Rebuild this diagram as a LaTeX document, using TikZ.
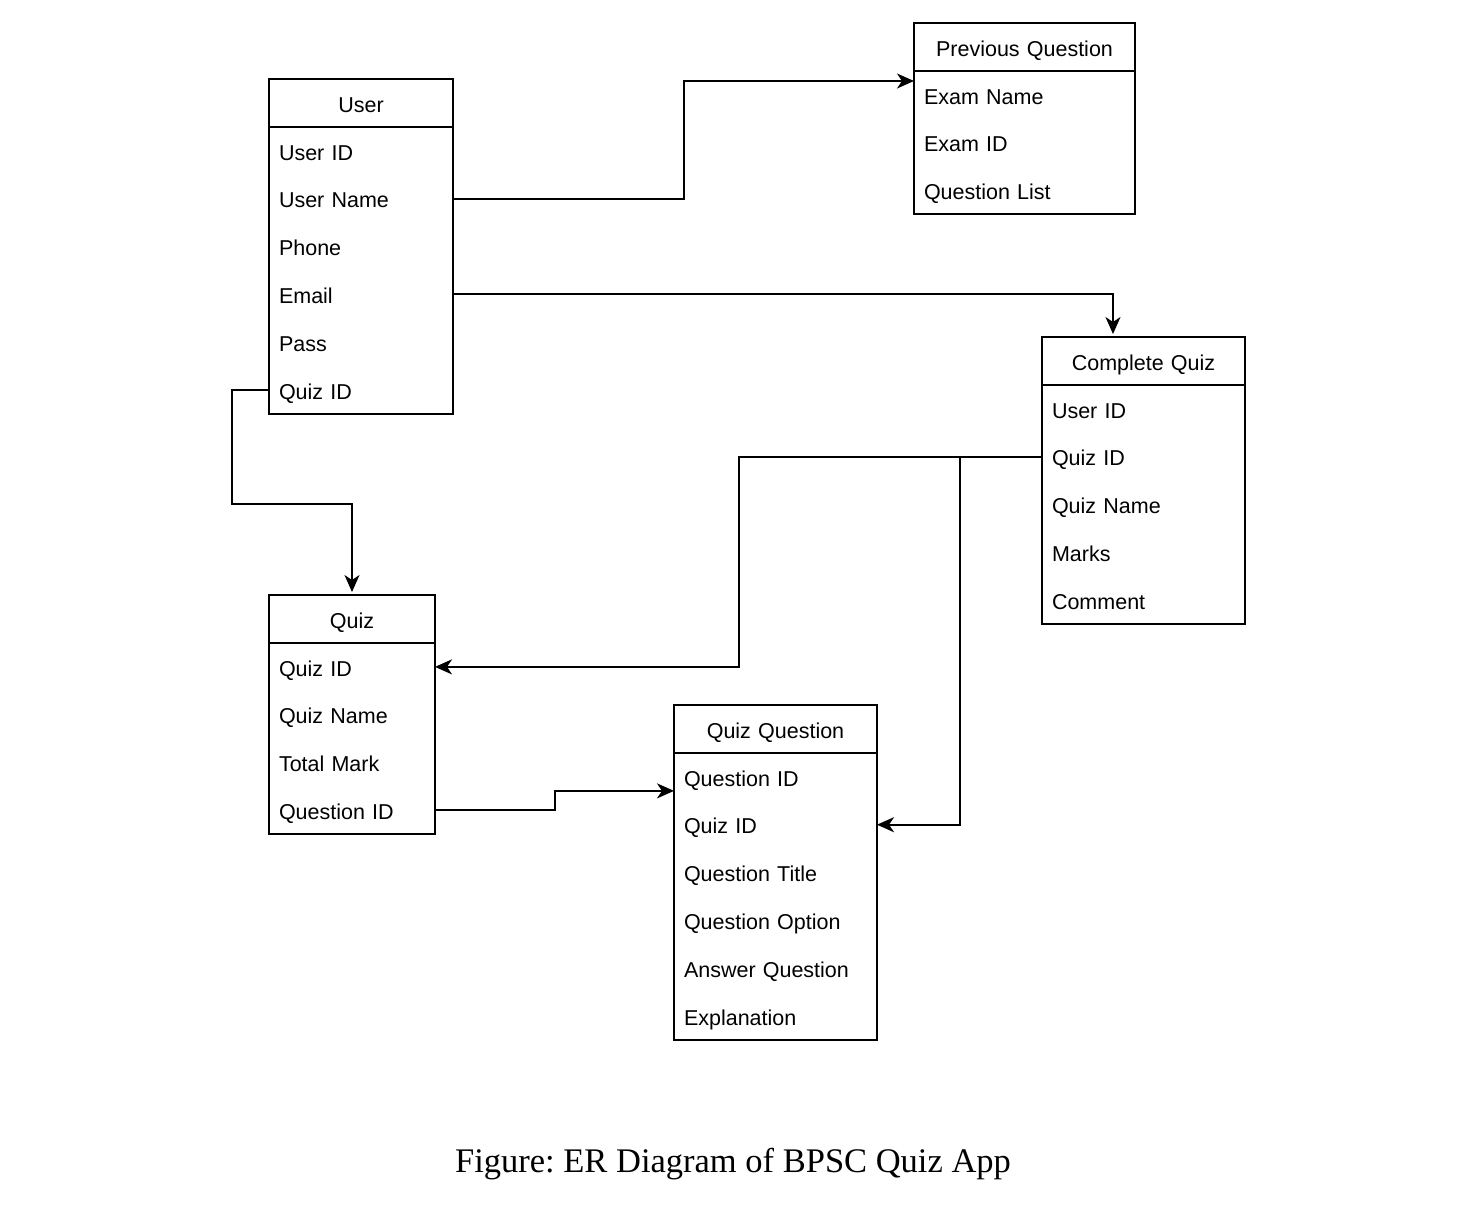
\documentclass[tikz,border=0pt]{standalone}
\usepackage{fontspec}
\setmainfont{Liberation Sans}
\newfontfamily\capfont{Liberation Serif}
\usetikzlibrary{positioning,arrows.meta}
\frenchspacing

\begin{document}
\begin{tikzpicture}[x=1pt,y=1pt,line width=2pt]
\tikzstyle{head}=[draw,outer sep=0pt,minimum height=48pt,inner xsep=10pt,inner ysep=0pt,text height=18.5pt,text depth=0pt,text width=#1,align=center,font=\fontsize{21.5}{24}\selectfont]
\tikzstyle{row}=[outer sep=0pt,minimum height=47.8pt,inner xsep=10pt,inner ysep=0pt,text height=18.5pt,text depth=0pt,text width=#1,align=left,font=\fontsize{21.5}{24}\selectfont]
\tikzstyle{link}=[-{Stealth[length=17pt,width=15pt,inset=5pt]},line width=2pt]
\useasboundingbox (0,0) rectangle (1470,-1226);

% User
\node (user) at (361,-103) [head=164pt] {User};
\node (u-id) [row=164pt,below=0pt of user] {User ID};
\node (u-name) [row=164pt,below=0pt of u-id] {User Name};
\node (u-phone) [row=164pt,below=0pt of u-name] {Phone};
\node (u-email) [row=164pt,below=0pt of u-phone] {Email};
\node (u-pass) [row=164pt,below=0pt of u-email] {Pass};
\node (u-quiz) [row=164pt,below=0pt of u-pass] {Quiz ID};
\draw (user.north west) rectangle (u-quiz.south east);

% Previous Question
\node (prev) at (1024.5,-47) [head=201pt] {Previous Question};
\node (p-ename) [row=201pt,below=0pt of prev] {Exam Name};
\node (p-eid) [row=201pt,below=0pt of p-ename] {Exam ID};
\node (p-list) [row=201pt,below=0pt of p-eid] {Question List};
\draw (prev.north west) rectangle (p-list.south east);

% Complete Quiz
\node (comp) at (1143.5,-361) [head=183pt] {Complete Quiz};
\node (c-user) [row=183pt,below=0pt of comp] {User ID};
\node (c-quiz) [row=183pt,below=0pt of c-user] {Quiz ID};
\node (c-name) [row=183pt,below=0pt of c-quiz] {Quiz Name};
\node (c-marks) [row=183pt,below=0pt of c-name] {Marks};
\node (c-comment) [row=183pt,below=0pt of c-marks] {Comment};
\draw (comp.north west) rectangle (c-comment.south east);

% Quiz
\node (quiz) at (352,-619) [head=146pt] {Quiz};
\node (q-id) [row=146pt,below=0pt of quiz] {Quiz ID};
\node (q-name) [row=146pt,below=0pt of q-id] {Quiz Name};
\node (q-total) [row=146pt,below=0pt of q-name] {Total Mark};
\node (q-qid) [row=146pt,below=0pt of q-total] {Question ID};
\draw (quiz.north west) rectangle (q-qid.south east);

% Quiz Question
\node (qq) at (775.5,-729) [head=183pt] {Quiz Question};
\node (qq-qid) [row=183pt,below=0pt of qq] {Question ID};
\node (qq-quiz) [row=183pt,below=0pt of qq-qid] {Quiz ID};
\node (qq-title) [row=183pt,below=0pt of qq-quiz] {Question Title};
\node (qq-option) [row=183pt,below=0pt of qq-title] {Question Option};
\node (qq-answer) [row=183pt,below=0pt of qq-option] {Answer Question};
\node (qq-expl) [row=183pt,below=0pt of qq-answer] {Explanation};
\draw (qq.north west) rectangle (qq-expl.south east);

\coordinate (p-in) at ([yshift=-10pt]prev.south west);
\coordinate (c-in) at ([xshift=71pt,yshift=3pt]comp.north west);
\coordinate (q-in) at ([yshift=3pt]quiz.north);
\coordinate (qq-in) at ([yshift=-14pt]qq-qid.west);

\draw [link] (u-name.east) -| ([xshift=-230pt]p-in) -- (p-in);
\draw [link] (u-email.east) -| (c-in);
\draw [link] (u-quiz.west) -| (232,-504) -| (q-in);
\draw [link] (c-quiz.west) -| ([xshift=304pt]q-id.east) -- (q-id.east);
\draw [link] ([xshift=-82pt]c-quiz.west) |- (qq-quiz.east);
\draw [link] (q-qid.east) -| ([xshift=-119pt]qq-in) -- (qq-in);

\node (caption) at (733,-1164) {\capfont\fontsize{34.5}{40}\selectfont Figure: ER Diagram of BPSC Quiz App};
\end{tikzpicture}
\end{document}
